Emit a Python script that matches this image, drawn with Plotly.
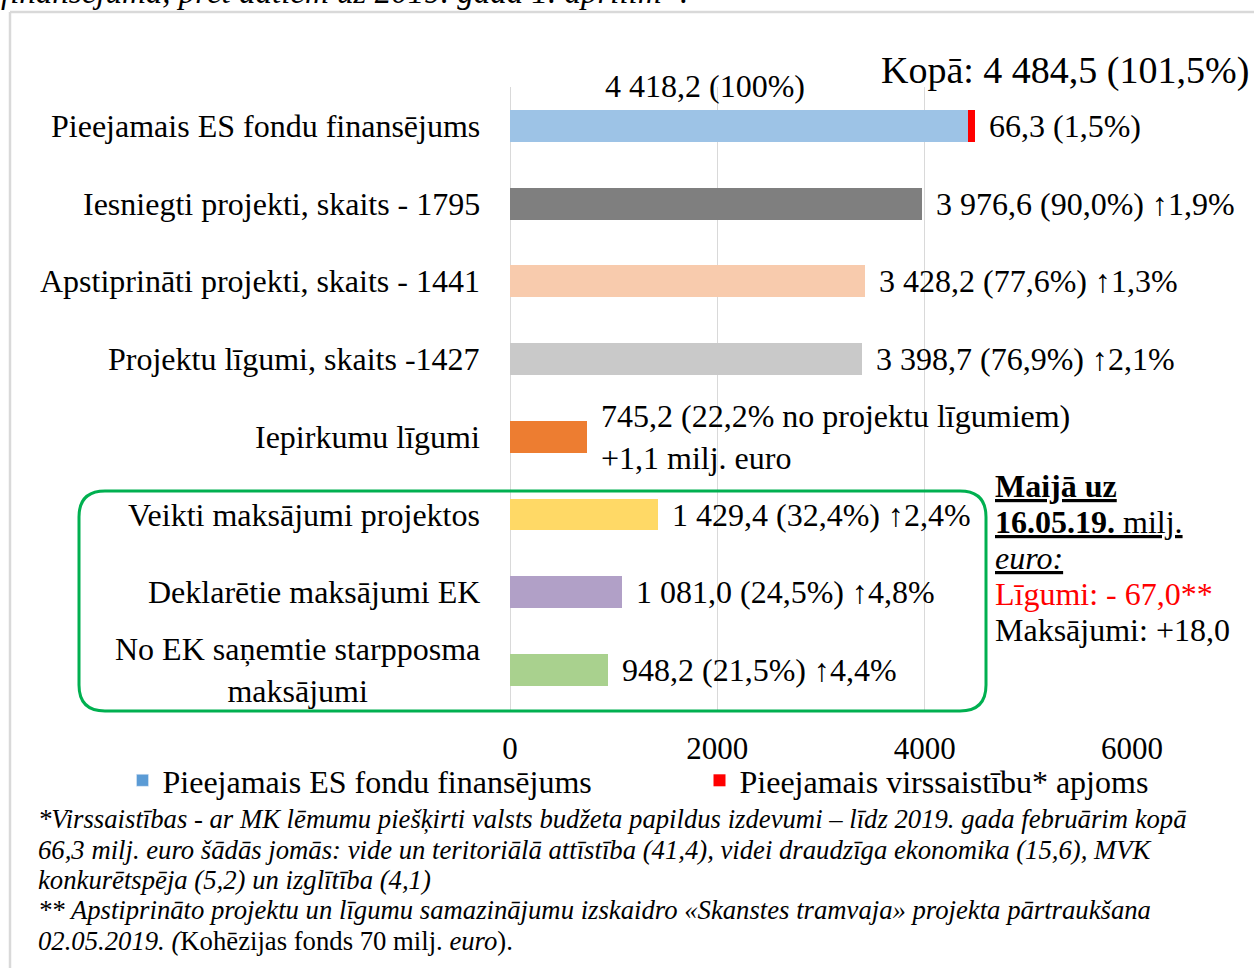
import plotly.graph_objects as go

# ---- data ----
categories = [
    "Pieejamais ES fondu finansējums",
    "Iesniegti projekti, skaits - 1795",
    "Apstiprināti projekti, skaits - 1441",
    "Projektu līgumi, skaits -1427",
    "Iepirkumu līgumi",
    "Veikti maksājumi projektos",
    "Deklarētie maksājumi EK",
    "No EK saņemtie starpposma<br>maksājumi",
]
values = [4418.2, 3976.6, 3428.2, 3398.7, 745.2, 1429.4, 1081.0, 948.2]
overcommit = [66.3]  # Pieejamais virssaistību apjoms (first category only)
value_labels = [
    "66,3 (1,5%)",
    "3 976,6 (90,0%) ↑1,9%",
    "3 428,2 (77,6%) ↑1,3%",
    "3 398,7 (76,9%) ↑2,1%",
    "745,2 (22,2% no projektu līgumiem)<br>+1,1 milj. euro",
    "1 429,4 (32,4%) ↑2,4%",
    "1 081,0 (24,5%) ↑4,8%",
    "948,2 (21,5%) ↑4,4%",
]
base_label = "4 418,2 (100%)"
total_label = "Kopā: 4 484,5 (101,5%)"
bar_colors = ["#9DC3E6", "#7F7F7F", "#F8CBAD", "#C9C9C9",
              "#ED7D31", "#FFD966", "#B1A0C7", "#A9D18E"]
x_ticks = [0, 2000, 4000, 6000]
legend_names = ["Pieejamais ES fondu finansējums", "Pieejamais virssaistību* apjoms"]
side_lines = [
    "<b><u>Maijā uz</u></b>",
    "<b><u>16.05.19.</u></b><u> milj.</u>",
    "<i><u>euro:</u></i>",
    "<span style='color:#FF0000'>Līgumi: - 67,0**</span>",
    "Maksājumi: +18,0",
]
footnotes = [
    "<i>*Virssaistības - ar MK lēmumu piešķirti valsts budžeta papildus izdevumi – līdz 2019. gada februārim kopā</i>",
    "<i>66,3 milj. euro šādās jomās: vide un teritoriālā attīstība (41,4), videi draudzīga ekonomika (15,6), MVK</i>",
    "<i>konkurētspēja (5,2) un izglītība (4,1)</i>",
    "<i>** Apstiprināto projektu un līgumu samazinājumu izskaidro «Skanstes tramvaja» projekta pārtraukšana</i>",
    "<i>02.05.2019. (</i>Kohēzijas fonds 70 milj. <i>euro</i>).",
]
top_cut_text = "<i>finansējuma, pret datiem uz 2019. gada 1. aprīlim”.</i>"

FONT = "Liberation Serif, Times New Roman, serif"
W, H = 1254, 968
L, R, T, B = 510, 122, 87, 257
PW, PH = W - L - R, H - T - B


def px_x(px):
    return (px - L) / PW


def px_y(py):
    return (H - B - py) / PH


fig = go.Figure()
fig.add_trace(go.Bar(
    x=values, y=categories, orientation="h",
    marker=dict(color=bar_colors, line=dict(width=0)),
    width=0.41, showlegend=False, hoverinfo="skip",
))
fig.add_trace(go.Bar(
    x=[None], y=[categories[0]], orientation="h",
    marker=dict(color="#5B9BD5"), name=legend_names[0], showlegend=True,
    legendwidth=532,
))
fig.add_trace(go.Bar(
    x=overcommit, y=[categories[0]], orientation="h",
    marker=dict(color="#FF0000", line=dict(width=0)),
    width=0.41, name=legend_names[1], showlegend=True, hoverinfo="skip",
    legendwidth=430,
))

ann = []
# category labels
for c in categories:
    ann.append(dict(x=0, xref="paper", y=c, yref="y", text=c, showarrow=False,
                    xanchor="right", xshift=-28, align="center",
                    font=dict(family=FONT, size=32, color="#000")))
# value labels
for i, (c, v, t) in enumerate(zip(categories, values, value_labels)):
    xv = v + (overcommit[0] if i == 0 else 0)
    ann.append(dict(x=xv, xref="x", y=c, yref="y", text=t, showarrow=False,
                    xanchor="left", xshift=12, align="left",
                    font=dict(family=FONT, size=32, color="#000")))
ann.append(dict(x=values[0] / 2, xref="x", y=categories[0], yref="y", text=base_label,
                showarrow=False, xanchor="center", xshift=-34, yshift=40,
                font=dict(family=FONT, size=32, color="#000")))
ann.append(dict(x=px_x(1251), xref="paper", y=px_y(70), yref="paper", text=total_label,
                showarrow=False, xanchor="right", yanchor="middle",
                font=dict(family=FONT, size=38, color="#000")))
for k, s in enumerate(side_lines):
    ann.append(dict(x=px_x(993), xref="paper", y=px_y(486 + 36 * k), yref="paper", text=s,
                    showarrow=False, xanchor="left", yanchor="middle",
                    font=dict(family=FONT, size=32, color="#000")))
for k, s in enumerate(footnotes):
    ann.append(dict(x=px_x(36), xref="paper", y=px_y(819 + 30.5 * k), yref="paper", text=s,
                    showarrow=False, xanchor="left", yanchor="middle",
                    font=dict(family=FONT, size=26.7, color="#000")))
ann.append(dict(x=px_x(-1), xref="paper", y=px_y(-8), yref="paper", text=top_cut_text,
                showarrow=False, xanchor="left", yanchor="middle",
                font=dict(family=FONT, size=33, color="#000")))

# rounded green box
x0, x1 = px_x(79), px_x(986)
y0, y1 = px_y(711), px_y(491)
rx, ry = 26 / PW, 26 / PH
path = (f"M{x0+rx},{y1} L{x1-rx},{y1} Q{x1},{y1} {x1},{y1-ry} "
        f"L{x1},{y0+ry} Q{x1},{y0} {x1-rx},{y0} L{x0+rx},{y0} "
        f"Q{x0},{y0} {x0},{y0+ry} L{x0},{y1-ry} Q{x0},{y1} {x0+rx},{y1} Z")
shapes = [
    dict(type="path", path=path, xref="paper", yref="paper",
         line=dict(color="#00B050", width=3), fillcolor="rgba(0,0,0,0)", layer="above"),
    dict(type="line", xref="paper", yref="paper", x0=px_x(10), x1=px_x(10),
         y0=px_y(12), y1=px_y(975), line=dict(color="#D9D9D9", width=2.5)),
    dict(type="line", xref="paper", yref="paper", x0=px_x(10), x1=px_x(1260),
         y0=px_y(12), y1=px_y(12), line=dict(color="#D9D9D9", width=2.5)),
]

fig.update_layout(
    width=W, height=H, margin=dict(l=L, r=R, t=T, b=B, autoexpand=False),
    barmode="stack", bargap=0.59,
    paper_bgcolor="white", plot_bgcolor="white",
    font=dict(family=FONT, size=32, color="#000"),
    xaxis=dict(range=[0, 6000], tickvals=x_ticks, ticktext=[str(t) for t in x_ticks],
               showgrid=True, gridcolor="#D9D9D9", gridwidth=1,
               zeroline=True, zerolinecolor="#D9D9D9", zerolinewidth=1,
               showline=False, ticks="", ticklabelstandoff=16,
               tickfont=dict(family=FONT, size=31, color="#000"), fixedrange=True),
    yaxis=dict(categoryorder="array", categoryarray=categories, autorange="reversed",
               showticklabels=False, showgrid=False, zeroline=False, showline=False,
               ticks="", fixedrange=True),
    legend=dict(orientation="h", xref="paper", yref="paper",
                x=px_x(122.5), xanchor="left", y=px_y(753), yanchor="top",
                font=dict(family=FONT, size=32, color="#000"),
                itemclick=False, itemdoubleclick=False, traceorder="normal",
                bgcolor="rgba(0,0,0,0)"),
    annotations=ann, shapes=shapes, showlegend=True,
)

fig.write_html(
    "out.html",
    config={"displayModeBar": False},
    post_script="document.body.style.margin='0';document.body.style.overflow='hidden';",
)
